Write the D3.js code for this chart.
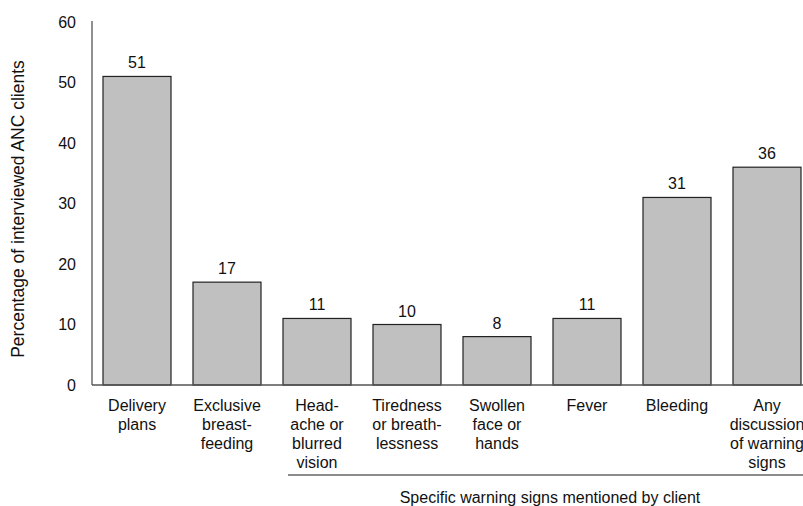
<!DOCTYPE html>
<html><head><meta charset="utf-8">
<script src="https://cdn.jsdelivr.net/npm/d3@7/dist/d3.min.js"></script>
<style>body{margin:0;background:#fff}svg{display:block;font-family:"Liberation Sans",Arial,sans-serif}</style>
</head><body><svg id="c" width="803" height="506"></svg>
<script>
const categories = ["Delivery plans","Exclusive breast-feeding","Head-ache or blurred vision","Tiredness or breath-lessness","Swollen face or hands","Fever","Bleeding","Any discussion of warning signs"];
const labelLines = [["Delivery","plans"],["Exclusive","breast-","feeding"],["Head-","ache or","blurred","vision"],["Tiredness","or breath-","lessness"],["Swollen","face or","hands"],["Fever"],["Bleeding"],["Any","discussion","of warning","signs"]];
const values = [51,17,11,10,8,11,31,36];
const yTicks = [0,10,20,30,40,50,60];
const yTitle = "Percentage of interviewed ANC clients";
const groupTitle = "Specific warning signs mentioned by client";
const groupStart = 2;

const FS = 16;
const svg = d3.select("#c");
const x = d3.scaleBand().domain(categories).range([92, 812]).paddingInner(22/90).paddingOuter(11/90);
const y = d3.scaleLinear().domain([0,60]).range([385,22]);

// y axis
const yAxis = d3.axisLeft(y).tickValues(yTicks).tickSize(0).tickPadding(16);
const gy = svg.append("g").attr("transform","translate(92,0)").call(yAxis);
gy.select(".domain").attr("stroke","#555").attr("stroke-width",1.3).attr("d","M0,21V385");
gy.selectAll("text").attr("font-size",FS).attr("fill","#111").attr("font-family","Liberation Sans, Arial, sans-serif");

// bars
svg.selectAll("rect.bar").data(values).join("rect").attr("class","bar")
  .attr("x",(d,i)=>x(categories[i])).attr("width",x.bandwidth())
  .attr("y",d=>y(d)).attr("height",d=>y(0)-y(d))
  .attr("fill","#c0c0c0").attr("stroke","#222").attr("stroke-width",1.2);

// x axis line
svg.append("line").attr("x1",92).attr("x2",803).attr("y1",y(0)).attr("y2",y(0)).attr("stroke","#555").attr("stroke-width",1.5);

// value labels
svg.selectAll("text.val").data(values).join("text").attr("class","val")
  .attr("x",(d,i)=>x(categories[i])+x.bandwidth()/2).attr("y",d=>y(d)-8)
  .attr("text-anchor","middle").attr("font-size",FS).attr("fill","#111").text(d=>d);

// category labels
labelLines.forEach((lines,i)=>{
  const t = svg.append("text").attr("text-anchor","middle").attr("font-size",FS).attr("fill","#111");
  lines.forEach((ln,j)=>{
    t.append("tspan").attr("x",x(categories[i])+x.bandwidth()/2).attr("y",411+j*19).text(ln);
  });
});

// group line and title
const gx1 = x(categories[groupStart]) + 5;
svg.append("line").attr("x1",gx1).attr("x2",803).attr("y1",475).attr("y2",475).attr("stroke","#666").attr("stroke-width",1.3);
svg.append("text").attr("x",(gx1+812)/2).attr("y",503).attr("text-anchor","middle").attr("font-size",FS).attr("fill","#111").text(groupTitle);

// y title
svg.append("text").attr("transform","translate(24,209) rotate(-90)").attr("text-anchor","middle").attr("font-size",17.5).attr("fill","#111").text(yTitle);
</script></body></html>
